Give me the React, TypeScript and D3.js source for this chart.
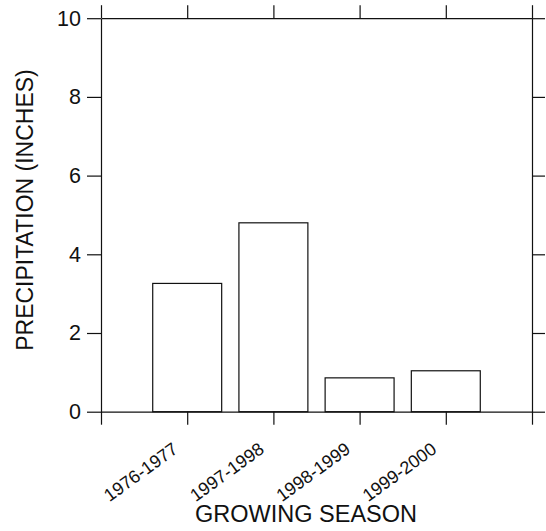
import { useEffect, useRef } from "react";
import * as d3 from "d3";

const SEASONS = ["1976-1977", "1997-1998", "1998-1999", "1999-2000"];
const PRECIP = [3.26, 4.8, 0.86, 1.04];
const Y_TICKS = [0, 2, 4, 6, 8, 10];

export default function App() {
  const svgRef = useRef<SVGSVGElement>(null);

  useEffect(() => {
    if (!svgRef.current) return;
    const W = 546, H = 531;
    const mg = { t: 18.2, r: 14, b: 119.3, l: 101 };
    const svg = d3.select(svgRef.current).attr("width", W).attr("height", H);
    svg.selectAll("*").remove();

    const font = "'Liberation Sans', Arial, sans-serif";
    const ink = "#111";
    const x = d3.scaleLinear().domain([0, 5]).range([mg.l, W - mg.r]);
    const y = d3.scaleLinear().domain([0, 10]).range([H - mg.b, mg.t]);
    const x0 = x(0), x1 = x(5), y0 = y(0), y1 = y(10);

    // bars
    const bw = x(0.8) - x(0);
    svg.append("g").selectAll("rect").data(PRECIP).join("rect")
      .attr("x", (_, i) => x(i + 1) - bw / 2).attr("width", bw)
      .attr("y", d => y(d)).attr("height", d => y0 - y(d))
      .attr("fill", "white").attr("stroke", ink).attr("stroke-width", 1.2);

    const styleAxis = (g: d3.Selection<SVGGElement, unknown, null, undefined>) => {
      g.select(".domain").attr("stroke", ink).attr("stroke-width", 1.2);
      g.selectAll(".tick line").attr("stroke", ink).attr("stroke-width", 1.2);
      g.selectAll("text").attr("font-family", font).attr("fill", ink);
    };

    const xt = d3.range(0, 6);
    svg.append("g").attr("transform", `translate(0,${y0})`)
      .call(d3.axisBottom(x).tickValues(xt).tickSize(13).tickSizeOuter(0).tickFormat(() => ""))
      .call(styleAxis);
    svg.append("g").attr("transform", `translate(0,${y1})`)
      .call(d3.axisTop(x).tickValues(xt).tickSize(13).tickSizeOuter(0).tickFormat(() => ""))
      .call(styleAxis);
    svg.append("g").attr("transform", `translate(${x0},0)`)
      .call(d3.axisLeft(y).tickValues(Y_TICKS).tickSize(14).tickSizeOuter(0).tickPadding(6).tickFormat(d3.format("d")))
      .call(styleAxis)
      .call(g => g.selectAll("text").attr("font-size", 21.5));
    svg.append("g").attr("transform", `translate(${x1},0)`)
      .call(d3.axisRight(y).tickValues(Y_TICKS).tickSize(13).tickSizeOuter(0).tickFormat(() => ""))
      .call(styleAxis);

    // rotated season labels
    svg.append("g").selectAll("text").data(SEASONS).join("text")
      .attr("transform", (_, i) => `translate(${x(i + 1) - 8},${y0 + 40}) rotate(-36)`)
      .attr("text-anchor", "end").attr("font-family", font).attr("font-size", 18).attr("fill", ink)
      .text(d => d);

    svg.append("text").attr("x", 306).attr("y", 521.5).attr("text-anchor", "middle")
      .attr("font-family", font).attr("font-size", 23.5).attr("fill", ink).text("GROWING SEASON");
    svg.append("text").attr("transform", `translate(32.5,210) rotate(-90)`).attr("text-anchor", "middle")
      .attr("font-family", font).attr("font-size", 23).attr("fill", ink).text("PRECIPITATION (INCHES)");
  }, []);

  return (
    <div style={{ position: "absolute", left: 0, top: 0, background: "white" }}>
      <svg ref={svgRef} style={{ display: "block" }} />
    </div>
  );
}
